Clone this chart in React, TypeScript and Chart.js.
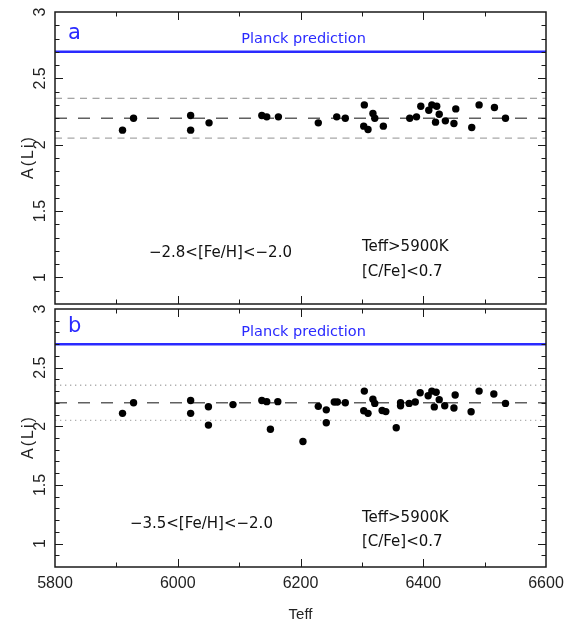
import React, { useEffect, useRef } from "react";
import { Chart, registerables } from "chart.js";

Chart.register(...registerables);

// ---- data ----
const teffA = [5910, 5928, 6021, 6021, 6051, 6137, 6145, 6164, 6229, 6259, 6273, 6304, 6303, 6310, 6318, 6321, 6335, 6378, 6389, 6396, 6409, 6414, 6422, 6426, 6420, 6436, 6450, 6453, 6479, 6491, 6516, 6534];
const aliA = [2.11, 2.2, 2.22, 2.11, 2.165, 2.22, 2.21, 2.21, 2.165, 2.21, 2.2, 2.3, 2.14, 2.115, 2.235, 2.2, 2.14, 2.2, 2.21, 2.29, 2.26, 2.3, 2.29, 2.23, 2.17, 2.18, 2.16, 2.27, 2.13, 2.3, 2.28, 2.2];

const teffB = [5910, 5928, 6021, 6021, 6050, 6050, 6090, 6137, 6145, 6151, 6163, 6204, 6229, 6242, 6242, 6255, 6260, 6273, 6304, 6303, 6310, 6318, 6321, 6333, 6339, 6356, 6363, 6363, 6377, 6387, 6395, 6408, 6414, 6421, 6426, 6418, 6435, 6450, 6452, 6478, 6491, 6515, 6534];
const aliB = [2.11, 2.2, 2.22, 2.11, 2.167, 2.01, 2.185, 2.22, 2.21, 1.975, 2.21, 1.87, 2.17, 2.14, 2.03, 2.207, 2.207, 2.2, 2.3, 2.133, 2.11, 2.23, 2.195, 2.135, 2.125, 1.987, 2.2, 2.175, 2.195, 2.207, 2.286, 2.26, 2.3, 2.29, 2.227, 2.165, 2.175, 2.156, 2.267, 2.124, 2.3, 2.275, 2.195];

const planckLi = 2.7;
const meanLi = 2.2;
const upperLi = 2.35;
const lowerLi = 2.05;

const xMin = 5800;
const xMax = 6600;
const yMin = 0.8;
const yMax = 3;
const xTickValues = [5800, 6000, 6200, 6400, 6600];
const xTickLabels = ["5800", "6000", "6200", "6400", "6600"];
const yTickValues = [1, 1.5, 2, 2.5, 3];
const yTickLabels = ["1", "1.5", "2", "2.5", "3"];

const BLUE = "#2a2aff";

type PanelSpec = {
  letter: string;
  fehText: string;
  band: "dashed" | "dotted";
  showX: boolean;
  xs: number[];
  ys: number[];
  padding: { left: number; right: number; top: number; bottom: number };
  height: number;
  top: number;
  textY: { feh: number; teff: number; cfe: number };
  fehX: number;
};

const panels: PanelSpec[] = [
  {
    letter: "a",
    fehText: "\u22122.8<[Fe/H]<\u22122.0",
    band: "dashed",
    showX: false,
    xs: teffA,
    ys: aliA,
    padding: { left: 55, right: 19, top: 12, bottom: 6 },
    height: 310,
    top: 0,
    textY: { feh: 1.184, teff: 1.229, cfe: 1.037 },
    fehX: 5953,
  },
  {
    letter: "b",
    fehText: "\u22123.5<[Fe/H]<\u22122.0",
    band: "dotted",
    showX: true,
    xs: teffB,
    ys: aliB,
    padding: { left: 55, right: 19, top: 4, bottom: 57 },
    height: 319,
    top: 305,
    textY: { feh: 1.167, teff: 1.218, cfe: 1.014 },
    fehX: 5922,
  },
];

function hline(value: number) {
  return [
    { x: xMin, y: value },
    { x: xMax, y: value },
  ];
}

function makeDecorPlugin(spec: PanelSpec) {
  return {
    id: "decor" + spec.letter,
    afterDraw(chart: any) {
      const { ctx, chartArea: ca } = chart;
      const x = chart.scales.x;
      const y = chart.scales.y;
      ctx.save();
      // ticks
      ctx.strokeStyle = "#1a1a1a";
      ctx.lineWidth = 1;
      ctx.beginPath();
      for (let t = xMin; t <= xMax; t += 100) {
        if (t === xMin || t === xMax) continue;
        const px = Math.round(x.getPixelForValue(t)) + 0.5;
        const len = t % 200 === 0 ? 8 : 4.5;
        ctx.moveTo(px, ca.bottom);
        ctx.lineTo(px, ca.bottom - len);
        ctx.moveTo(px, ca.top);
        ctx.lineTo(px, ca.top + len);
      }
      for (let i = 8; i <= 30; i++) {
        const v = i / 10;
        const py = Math.round(y.getPixelForValue(v)) + 0.5;
        if (py <= ca.top + 1 || py >= ca.bottom - 1) continue;
        const len = i % 5 === 0 ? 8 : 4.5;
        ctx.moveTo(ca.left, py);
        ctx.lineTo(ca.left + len, py);
        ctx.moveTo(ca.right, py);
        ctx.lineTo(ca.right - len, py);
      }
      ctx.stroke();
      // frame
      ctx.lineWidth = 1.5;
      ctx.strokeRect(ca.left, ca.top, ca.right - ca.left, ca.bottom - ca.top);

      // y tick labels (rotated)
      ctx.fillStyle = "#222";
      ctx.font = "16px 'Liberation Sans', Arial, sans-serif";
      ctx.textAlign = "center";
      ctx.textBaseline = "middle";
      yTickValues.forEach((v, i) => {
        const py = y.getPixelForValue(v);
        ctx.save();
        ctx.translate(ca.left - 14, py);
        ctx.rotate(-Math.PI / 2);
        ctx.fillText(yTickLabels[i], 0, 0);
        ctx.restore();
      });

      // y title
      ctx.save();
      ctx.font = "16px 'Liberation Sans', Arial, sans-serif";
      (ctx as any).letterSpacing = "2px";
      ctx.translate(ca.left - 26, (ca.top + ca.bottom) / 2);
      ctx.rotate(-Math.PI / 2);
      ctx.textAlign = "center";
      ctx.textBaseline = "middle";
      ctx.fillText("A(Li)", 1, 0);
      ctx.restore();

      // x labels & title
      if (spec.showX) {
        ctx.font = "16px 'Liberation Sans', Arial, sans-serif";
        ctx.textAlign = "center";
        ctx.textBaseline = "alphabetic";
        xTickValues.forEach((v, i) => {
          ctx.fillText(xTickLabels[i], x.getPixelForValue(v), ca.bottom + 21);
        });
        ctx.font = "15px 'Liberation Sans', Arial, sans-serif";
        ctx.fillText("Teff", (ca.left + ca.right) / 2, ca.bottom + 52);
      }

      // panel letter
      ctx.fillStyle = BLUE;
      ctx.font = "21px 'DejaVu Sans', sans-serif";
      ctx.textAlign = "left";
      ctx.textBaseline = "alphabetic";
      ctx.fillText(spec.letter, x.getPixelForValue(5821), y.getPixelForValue(2.8));

      // Planck label
      ctx.font = "14.5px 'DejaVu Sans', sans-serif";
      ctx.textAlign = "center";
      ctx.fillText("Planck prediction", x.getPixelForValue(6205), y.getPixelForValue(2.77));

      // annotations
      ctx.fillStyle = "#111";
      ctx.font = "15px 'DejaVu Sans', sans-serif";
      ctx.textAlign = "left";
      ctx.textBaseline = "middle";
      ctx.fillText(spec.fehText, x.getPixelForValue(spec.fehX), y.getPixelForValue(spec.textY.feh));
      ctx.fillText("Teff>5900K", x.getPixelForValue(6300), y.getPixelForValue(spec.textY.teff));
      ctx.fillText("[C/Fe]<0.7", x.getPixelForValue(6300), y.getPixelForValue(spec.textY.cfe));
      ctx.restore();
    },
  };
}

function Panel({ spec }: { spec: PanelSpec }) {
  const ref = useRef<HTMLCanvasElement | null>(null);
  useEffect(() => {
    if (!ref.current) return;
    const dashed = spec.band === "dashed";
    const chart = new Chart(ref.current, {
      type: "scatter",
      data: {
        datasets: [
          {
            type: "scatter",
            data: spec.xs.map((t, i) => ({ x: t, y: spec.ys[i] })),
            backgroundColor: "#000",
            borderWidth: 0,
            pointRadius: 3.7,
          } as any,
          {
            type: "line",
            data: hline(planckLi),
            borderColor: BLUE,
            borderWidth: 2.5,
            pointRadius: 0,
          } as any,
          {
            type: "line",
            data: hline(meanLi),
            borderColor: "#606060",
            borderWidth: 1.5,
            borderDash: [12, 11],
            pointRadius: 0,
          } as any,
          {
            type: "line",
            data: hline(upperLi),
            borderColor: dashed ? "#8a8a8a" : "#b0b0b0",
            borderWidth: dashed ? 1 : 1.3,
            borderDash: dashed ? [7, 5.5] : [1.3, 3.7],
            pointRadius: 0,
          } as any,
          {
            type: "line",
            data: hline(lowerLi),
            borderColor: dashed ? "#a8a8a8" : "#b0b0b0",
            borderWidth: dashed ? 1.2 : 1.3,
            borderDash: dashed ? [7, 5.5] : [1.3, 3.7],
            pointRadius: 0,
          } as any,
        ],
      },
      options: {
        responsive: false,
        devicePixelRatio: 1,
        animation: false,
        events: [],
        layout: { padding: spec.padding },
        plugins: { legend: { display: false }, tooltip: { enabled: false } },
        scales: {
          x: { type: "linear", min: xMin, max: xMax, display: false },
          y: { type: "linear", min: yMin, max: yMax, display: false },
        },
      },
      plugins: [makeDecorPlugin(spec)],
    });
    return () => chart.destroy();
  }, [spec]);
  return (
    <canvas
      ref={ref}
      width={565}
      height={spec.height}
      style={{ position: "absolute", left: 0, top: spec.top, width: 565, height: spec.height }}
    />
  );
}

export default function App() {
  return (
    <div
      style={{
        position: "absolute",
        left: 0,
        top: 0,
        width: 565,
        height: 624,
        background: "#fff",
        overflow: "hidden",
      }}
    >
      {panels.map((p) => (
        <Panel key={p.letter} spec={p} />
      ))}
    </div>
  );
}
